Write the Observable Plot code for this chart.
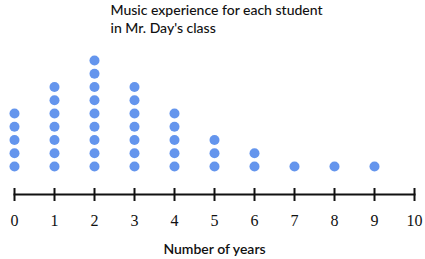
<!DOCTYPE html>
<html>
<head>
<meta charset="utf-8">
<script src="https://cdn.jsdelivr.net/npm/d3@7"></script>
<script src="https://cdn.jsdelivr.net/npm/@observablehq/plot@0.6"></script>
<style>
  html, body { margin: 0; padding: 0; background: #fff; }
  #chart svg { display: block; }
</style>
</head>
<body>
<div id="chart"></div>
<script>
const years = [0, 1, 2, 3, 4, 5, 6, 7, 8, 9];
const counts = [5, 7, 9, 7, 5, 3, 2, 1, 1, 1];
const tickValues = [0, 1, 2, 3, 4, 5, 6, 7, 8, 9, 10];
const titleText = "Music experience for each student\nin Mr. Day's class";
const xLabel = "Number of years";

const dots = [];
years.forEach((y, i) => {
  for (let k = 1; k <= counts[i]; k++) dots.push({years: y, row: k});
});

const chart = Plot.plot({
  width: 425,
  height: 259,
  marginLeft: 14,
  marginRight: 11,
  marginTop: 0,
  marginBottom: 71,
  style: {background: "#fff"},
  x: {domain: [0, 10], axis: null},
  y: {domain: [1, 9], range: [166, 60], axis: null},
  marks: [
    Plot.frame({anchor: "bottom", dy: 6, stroke: "#111", strokeWidth: 2}),
    Plot.axisX(tickValues, {
      anchor: "bottom",
      tickSize: 13,
      tickPadding: 13,
      strokeWidth: 2,
      stroke: "#111",
      color: "#111",
      fontSize: 16,
      fontFamily: "Liberation Serif",
      tickFormat: d => String(d),
      label: null
    }),
    Plot.dot(dots, {x: "years", y: "row", r: 5, fill: "#6495ed", stroke: null}),
    Plot.text([titleText], {
      frameAnchor: "top-left",
      text: d => d,
      dx: 96,
      dy: 1,
      lineAnchor: "top",
      textAnchor: "start",
      lineHeight: 1.32,
      fontSize: 14,
      fontFamily: "Lato",
      fontWeight: 500,
      fill: "#111"
    }),
    Plot.text([xLabel], {
      frameAnchor: "bottom",
      text: d => d,
      dy: 61,
      lineAnchor: "middle",
      fontSize: 14,
      fontFamily: "Lato",
      fontWeight: 600,
      fill: "#111"
    })
  ]
});
document.getElementById("chart").appendChild(chart);
</script>
</body>
</html>
